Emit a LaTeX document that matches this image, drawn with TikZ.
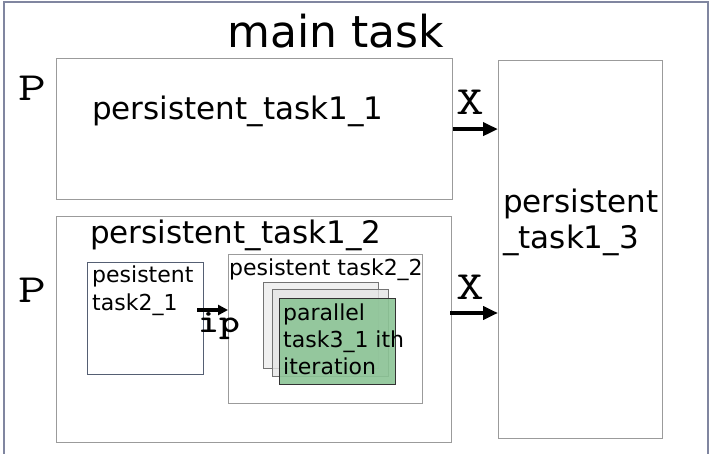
\documentclass[tikz,border=0pt]{standalone}
\usepackage{fontspec}
\setmainfont{DejaVu Sans}
\newfontfamily\ipfont{lmmonolt10-bold.otf}
\usetikzlibrary{arrows.meta}
\definecolor{framegray}{RGB}{128,134,160}
\definecolor{boxgray}{RGB}{155,155,155}
\definecolor{taskgreen}{RGB}{140,196,150}
\definecolor{slateedge}{RGB}{85,95,115}
\newcommand{\widett}[1]{\scalebox{1.35}[1]{#1}}

\begin{document}
\begin{tikzpicture}[x=1pt, y=-1pt, >={Triangle[length=15pt, width=13pt]}]
  \tikzset{
    taskbox/.style={draw=boxgray, line width=1.2pt, rectangle, inner sep=0pt, anchor=north west},
    lbl/.style={inner sep=0pt, anchor=base west},
    flow/.style={->, line width=4.5pt},
    tt/.style={inner sep=0pt, font=\ttfamily\fontsize{40}{44}\selectfont}
  }
  \useasboundingbox (0,0) rectangle (713,454);

  % Outer frame
  \draw[framegray, line width=1.5pt] (4,454) -- (4,2) -- (708,2) -- (708,454);
  \node[font=\fontsize{44}{50}\selectfont] (main) at (336,31) {main task};

  % Top level boxes
  \node[taskbox, minimum width=396pt, minimum height=141pt] (t11) at (56,58) {};
  \node[taskbox, minimum width=395pt, minimum height=226pt] (t12) at (56,216) {};
  \node[taskbox, minimum width=164pt, minimum height=378pt] (t13) at (498,60) {};

  \node[lbl, font=\fontsize{31}{35}\selectfont] (l11) at (92,120) {persistent\_task1\_1};
  \node[lbl, font=\fontsize{31}{35}\selectfont] (l12) at (90,244) {persistent\_task1\_2};
  \node[lbl, font=\fontsize{31}{35}\selectfont] (l13a) at (503,213) {persistent};
  \node[lbl, font=\fontsize{31}{35}\selectfont] (l13b) at (503,249) {\_task1\_3};

  % P and X labels
  \node[tt] (p1) at (32,88) {\widett{P}};
  \node[tt] (p2) at (32,290) {\widett{P}};
  \node[tt] (x1) at (470,102) {\widett{X}};
  \node[tt] (x2) at (470,287) {\widett{X}};

  % Arrows to persistent_task1_3
  \draw[flow] (t11.east) -- (t11.east -| t13.west);
  \coordinate (a2) at (450,313);
  \draw[flow] (a2) -- (a2 -| t13.west);

  % Inner boxes of persistent_task1_2
  \node[taskbox, draw=slateedge, minimum width=116pt, minimum height=112pt] (t21) at (87,262) {};
  \node[taskbox, minimum width=194pt, minimum height=149pt] (t22) at (228,254) {};
  \node[lbl, font=\fontsize{22}{26}\selectfont] (l21a) at (92,283) {pesistent};
  \node[lbl, font=\fontsize{22}{26}\selectfont] (l21b) at (92,311) {task2\_1};
  \node[lbl, font=\fontsize{22}{26}\selectfont] (l22) at (229,276) {pesistent task2\_2};

  % ip arrow
  \coordinate (a3) at (197,310);
  \draw[->, line width=3.5pt, >={Triangle[length=10pt, width=10pt]}] (a3) -- (a3 -| t22.west);
  \node[inner sep=0pt, font=\ipfont\fontsize{33}{36}\selectfont] (ip) at (219,326) {\scalebox{1.2}[1]{ip}};

  % Stack of parallel tasks
  \node[taskbox, draw=black!55, fill=gray!15, fill opacity=0.8, minimum width=115pt, minimum height=86pt] (s1) at (263,282) {};
  \node[taskbox, draw=black!55, fill=gray!20, fill opacity=0.8, minimum width=116pt, minimum height=87pt] (s2) at (272,289) {};
  \node[taskbox, draw=black!80, fill=taskgreen, fill opacity=0.9, minimum width=116pt, minimum height=86pt] (s3) at (279,298) {};
  \node[lbl, font=\fontsize{22}{26}\selectfont] (l31a) at (283,321) {parallel};
  \node[lbl, font=\fontsize{22}{26}\selectfont] (l31b) at (283,348) {task3\_1 ith};
  \node[lbl, font=\fontsize{22}{26}\selectfont] (l31c) at (283,375) {iteration};
\end{tikzpicture}
\end{document}
